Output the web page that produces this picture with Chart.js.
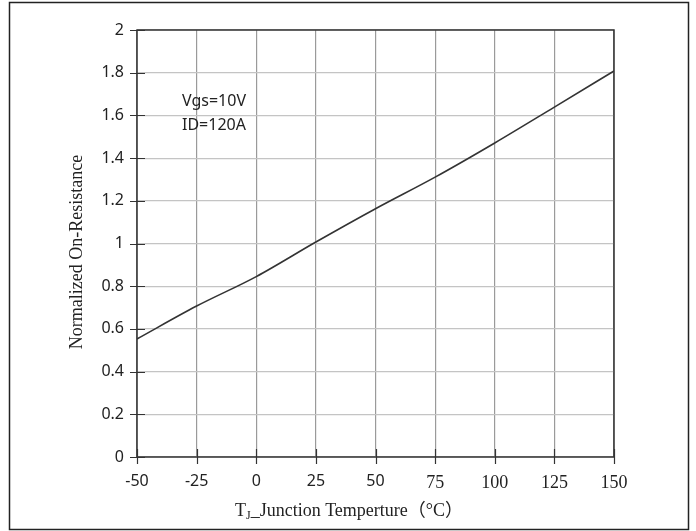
<!DOCTYPE html>
<html>
<head>
<meta charset="utf-8">
<script src="https://cdn.jsdelivr.net/npm/chart.js@4/dist/chart.umd.min.js"></script>
<style>
  html, body { margin: 0; padding: 0; background: #fff; }
  #wrap { width: 696px; height: 531px; }
</style>
</head>
<body>
<div id="wrap"><canvas id="chart" width="696" height="531"></canvas></div>
<script>
// ===== Data =====
const temps = [-50, -25, 0, 25, 50, 75, 100, 125, 150];
const resistance = [0.553, 0.707, 0.845, 1.007, 1.163, 1.311, 1.471, 1.639, 1.808];
const xTicks = [-50, -25, 0, 25, 50, 75, 100, 125, 150];
const noteLines = ['Vgs=10V', 'ID=120A'];

const SANS = '"Noto Sans", sans-serif';
const SERIF = '"Liberation Serif", "Noto Sans CJK SC", serif';
const DARK = '#333333';

// frame, axis box, crossing tick marks, titles and the note
const decor = {
  id: 'decor',
  afterDraw(chart) {
    const { ctx, chartArea: a, scales } = chart;
    ctx.save();

    // outer frame
    ctx.strokeStyle = '#222';
    ctx.lineWidth = 1.5;
    ctx.strokeRect(9.5, 2.5, 679, 527);

    // plot box
    ctx.strokeStyle = DARK;
    ctx.lineWidth = 1.5;
    ctx.strokeRect(a.left, a.top, a.right - a.left, a.bottom - a.top);

    // tick marks crossing the axes
    ctx.lineWidth = 1.2;
    ctx.beginPath();
    scales.y.ticks.forEach(t => {
      const py = Math.round(scales.y.getPixelForValue(t.value)) + 0.5;
      ctx.moveTo(a.left - 7, py);
      ctx.lineTo(a.left + 8, py);
    });
    scales.x.ticks.forEach(t => {
      const px = Math.round(scales.x.getPixelForValue(t.value)) + 0.5;
      ctx.moveTo(px, a.bottom - 8);
      ctx.lineTo(px, a.bottom + 7);
    });
    ctx.stroke();

    ctx.fillStyle = '#222';

    // y title
    ctx.save();
    ctx.translate(77, 252);
    ctx.rotate(-Math.PI / 2);
    ctx.font = '18px ' + SERIF;
    ctx.textAlign = 'center';
    ctx.textBaseline = 'middle';
    ctx.fillText('Normalized On-Resistance', 0, 0);
    ctx.restore();

    // x title with subscript J
    const main = '_Junction Temperture（°C）';
    ctx.font = '18px ' + SERIF;
    const wT = ctx.measureText('T').width;
    const wMain = ctx.measureText(main).width;
    ctx.font = '12px ' + SERIF;
    const wJ = ctx.measureText('J').width;
    const total = wT + wJ + wMain;
    const x0 = 349 - total / 2;
    const base = 516;
    ctx.textAlign = 'left';
    ctx.textBaseline = 'alphabetic';
    ctx.font = '18px ' + SERIF;
    ctx.fillText('T', x0, base);
    ctx.font = '12px ' + SERIF;
    ctx.fillText('J', x0 + wT, base + 3);
    ctx.font = '18px ' + SERIF;
    ctx.fillText(main, x0 + wT + wJ, base);

    // condition note
    ctx.font = '16px ' + SANS;
    ctx.textBaseline = 'middle';
    noteLines.forEach((s, i) => ctx.fillText(s, 182, 101 + i * 24));

    ctx.restore();
  }
};

new Chart(document.getElementById('chart'), {
  type: 'line',
  data: {
    datasets: [{
      data: temps.map((t, i) => ({ x: t, y: resistance[i] })),
      borderColor: DARK,
      borderWidth: 1.6,
      pointRadius: 0,
      cubicInterpolationMode: 'monotone',
      fill: false,
    }]
  },
  options: {
    responsive: false,
    animation: false,
    layout: { padding: { top: 30, right: 82, left: 0, bottom: 0 } },
    plugins: { legend: { display: false }, tooltip: { enabled: false } },
    scales: {
      x: {
        type: 'linear',
        min: -50,
        max: 150,
        afterBuildTicks: s => { s.ticks = xTicks.map(v => ({ value: v })); },
        afterFit: s => { s.height = 74; },
        grid: { color: '#9a9a9a', lineWidth: 1.2, drawTicks: false },
        border: { display: false },
        ticks: {
          padding: 15,
          color: '#222',
          font: ctx => ({ family: ctx.tick && ctx.tick.value >= 75 ? SERIF : SANS, size: ctx.tick && ctx.tick.value >= 75 ? 18 : 16 }),
        }
      },
      y: {
        min: 0,
        max: 2,
        afterFit: s => { s.width = 137; },
        grid: { color: '#c4c4c4', lineWidth: 1.2, drawTicks: false },
        border: { display: false },
        ticks: {
          stepSize: 0.2,
          padding: 13,
          color: '#222',
          font: { family: SANS, size: 16 },
          callback: v => String(Math.round(v * 10) / 10),
        }
      }
    }
  },
  plugins: [decor]
});
</script>
</body>
</html>
